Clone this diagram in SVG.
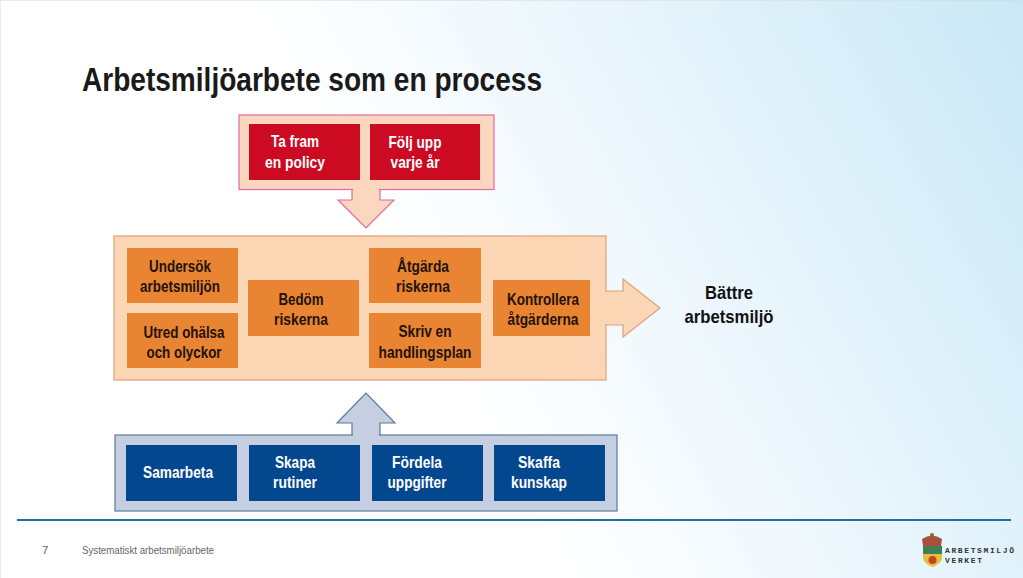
<svg xmlns="http://www.w3.org/2000/svg" width="1023" height="578" viewBox="0 0 1023 578">
<style>
text{font-family:"Liberation Sans",Arial,sans-serif;font-weight:700;text-anchor:middle;font-size:17px}
.w{fill:#fff}.k{fill:#231208}
.r{fill:#cc0a22}.o{fill:#e88432}.b{fill:#03478f}
.pr{fill:#fbd7c0;stroke:#e26aa0;stroke-width:1.2}
.po{fill:#fbd7b6;stroke:#e0a078;stroke-width:1.2}
.pb{fill:#c6cfe2;stroke:#5a7a9c;stroke-width:1.2}
.foot{font-weight:400;font-size:11.500px;fill:#666;text-anchor:start}
</style>
<defs>
<linearGradient id="bg" gradientUnits="userSpaceOnUse" x1="430" y1="330" x2="1023" y2="0">
<stop offset="0" stop-color="#fff"/><stop offset="0.45" stop-color="#e9f5fc"/><stop offset="1" stop-color="#c9e8f6"/>
</linearGradient>
</defs>
<rect width="1023" height="578" fill="url(#bg)"/>
<path d="M0 578V0H1023" fill="none" stroke="#d8d8d8" stroke-width="1"/>
<text x="312" y="91" style="font-size:33px" fill="#1a1a1a" textLength="460" lengthAdjust="spacingAndGlyphs">Arbetsmiljöarbete som en process</text>

<g id="connectors">
<path class="pr" d="M352 189V200H338L366 228L394 200H380V189"/>
<path class="po" d="M606 291H623V279L660 308L623 337V325H606"/>
<path class="pb" d="M352 435V423H337L366 393L395 423H380V435"/>
</g>

<g id="policy-group"><rect x="239" y="115" width="255" height="74.500" class="pr"/><path d="M353 188h26v3h-26z" fill="#fbd7c0"/></g>
<g id="process-group"><rect x="114" y="236" width="492" height="144" class="po"/><path d="M604 292h4v32h-4z" fill="#fbd7b6"/></g>
<g id="support-group"><rect x="115" y="435" width="502" height="76" class="pb"/><path d="M353 433h26v4h-26z" fill="#c6cfe2"/></g>

<g id="ta-fram"><rect x="249" y="124" width="111" height="56" class="r"/><text class="w" y="147" x="295" textLength="48" lengthAdjust="spacingAndGlyphs">Ta fram</text><text class="w" y="168" x="295" textLength="60" lengthAdjust="spacingAndGlyphs">en policy</text></g>
<g id="folj-upp"><rect x="370" y="124" width="110" height="56" class="r"/><text class="w" y="148" x="415" textLength="53" lengthAdjust="spacingAndGlyphs">Följ upp</text><text class="w" y="168" x="415" textLength="49" lengthAdjust="spacingAndGlyphs">varje år</text></g>

<g id="undersok"><rect x="127" y="248" width="111" height="55" class="o"/><text class="k" y="272" x="180" textLength="62" lengthAdjust="spacingAndGlyphs">Undersök</text><text class="k" y="292" x="180" textLength="80" lengthAdjust="spacingAndGlyphs">arbetsmiljön</text></g>
<g id="utred"><rect x="127" y="313" width="111" height="55" class="o"/><text class="k" y="338" x="184" textLength="81" lengthAdjust="spacingAndGlyphs">Utred ohälsa</text><text class="k" y="358" x="184" textLength="75" lengthAdjust="spacingAndGlyphs">och olyckor</text></g>
<g id="bedom"><rect x="248" y="280" width="111" height="56" class="o"/><text class="k" y="305" x="301" textLength="45" lengthAdjust="spacingAndGlyphs">Bedöm</text><text class="k" y="325" x="301" textLength="54" lengthAdjust="spacingAndGlyphs">riskerna</text></g>
<g id="atgarda"><rect x="369" y="248" width="112" height="55" class="o"/><text class="k" y="272" x="423" textLength="52" lengthAdjust="spacingAndGlyphs">Åtgärda</text><text class="k" y="292" x="423" textLength="54" lengthAdjust="spacingAndGlyphs">riskerna</text></g>
<g id="skriv"><rect x="369" y="313" width="112" height="55" class="o"/><text class="k" y="337" x="425" textLength="53" lengthAdjust="spacingAndGlyphs">Skriv en</text><text class="k" y="358" x="425" textLength="93" lengthAdjust="spacingAndGlyphs">handlingsplan</text></g>
<g id="kontrollera"><rect x="493" y="280" width="97" height="56" class="o"/><text class="k" y="305" x="543" textLength="72" lengthAdjust="spacingAndGlyphs">Kontrollera</text><text class="k" y="325" x="543" textLength="71" lengthAdjust="spacingAndGlyphs">åtgärderna</text></g>

<g id="battre"><text y="299" x="729" style="font-size:19px" fill="#111" textLength="48" lengthAdjust="spacingAndGlyphs">Bättre</text><text y="323" x="729" style="font-size:19px" fill="#111" textLength="89" lengthAdjust="spacingAndGlyphs">arbetsmiljö</text></g>

<g id="samarbeta"><rect x="126" y="445" width="111" height="56" class="b"/><text class="w" y="478" x="178" textLength="70" lengthAdjust="spacingAndGlyphs">Samarbeta</text></g>
<g id="skapa"><rect x="249" y="445" width="111" height="56" class="b"/><text class="w" y="468" x="295" textLength="40" lengthAdjust="spacingAndGlyphs">Skapa</text><text class="w" y="488" x="295" textLength="44" lengthAdjust="spacingAndGlyphs">rutiner</text></g>
<g id="fordela"><rect x="372" y="445" width="111" height="56" class="b"/><text class="w" y="468" x="417" textLength="50" lengthAdjust="spacingAndGlyphs">Fördela</text><text class="w" y="488" x="417" textLength="59" lengthAdjust="spacingAndGlyphs">uppgifter</text></g>
<g id="skaffa"><rect x="494" y="445" width="111" height="56" class="b"/><text class="w" y="468" x="539" textLength="42" lengthAdjust="spacingAndGlyphs">Skaffa</text><text class="w" y="488" x="539" textLength="56" lengthAdjust="spacingAndGlyphs">kunskap</text></g>

<path d="M17 520H1011" stroke="#1f6f9f" stroke-width="2" fill="none"/>
<text class="foot" x="42" y="554">7</text>
<text class="foot" x="82" y="554" textLength="132" lengthAdjust="spacingAndGlyphs">Systematiskt arbetsmiljöarbete</text>

<g id="logo">
<path d="M922 539q10-7 20 0l-1 7h-18z" fill="#a8503a"/>
<circle cx="932" cy="535" r="2" fill="#8a6a3a"/>
<path d="M923 546h19v12q-1 6-9.500 9q-8.500-3-9.500-9z" fill="#e3c23a"/>
<rect x="923" y="546" width="19" height="8" fill="#3f7f58"/>
<circle cx="932.500" cy="560" r="4" fill="#c8402a"/>
<text x="945" y="553" style="font-size:8px;text-anchor:start;font-family:'Liberation Mono',monospace" fill="#333" textLength="69">ARBETSMILJÖ</text>
<text x="945" y="563" style="font-size:8px;text-anchor:start;font-family:'Liberation Mono',monospace" fill="#333" textLength="37">VERKET</text>
</g>
</svg>
